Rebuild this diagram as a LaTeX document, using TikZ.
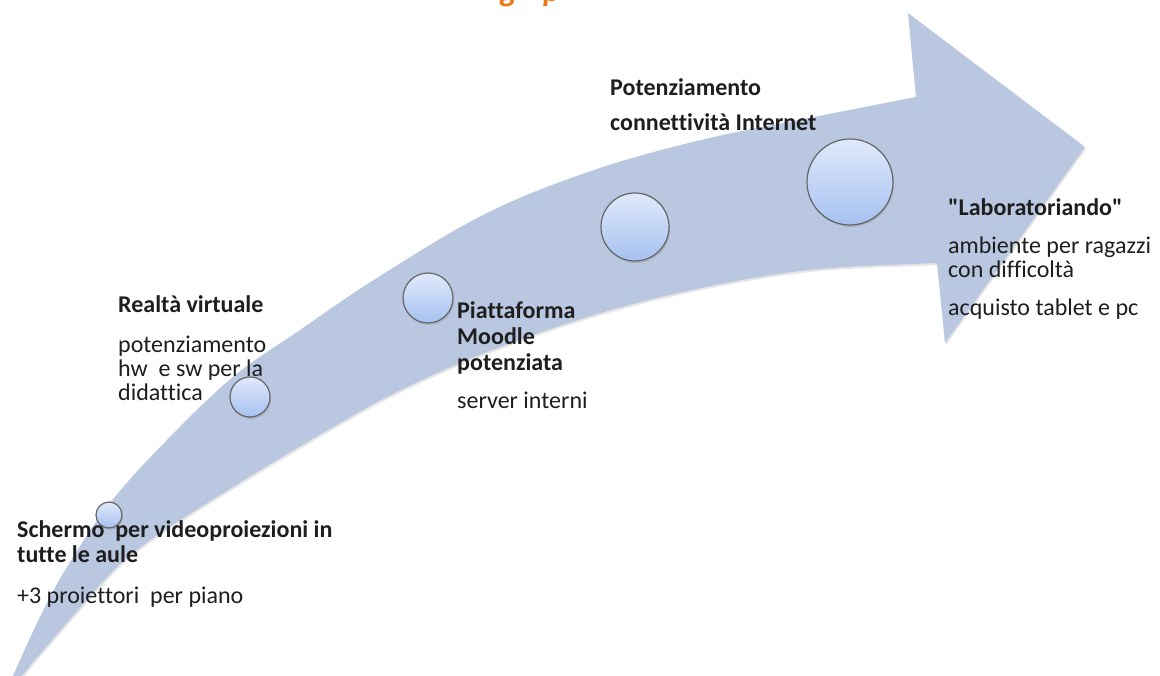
\documentclass[tikz,border=0pt]{standalone}
\usepackage{fontspec}
\setmainfont{Carlito}[Ligatures={TeXOff,NoCommon}]
\usetikzlibrary{shadows}
\definecolor{bandblue}{RGB}{185,199,225}
\definecolor{titleorange}{RGB}{232,120,24}
\definecolor{circtop}{RGB}{224,233,251}
\definecolor{circbot}{RGB}{166,194,241}
\definecolor{txt}{RGB}{30,30,30}
\begin{document}
\begin{tikzpicture}[x=1pt,y=-1pt,
  hd/.style={anchor=base west, inner sep=0pt, text=txt, font=\fontsize{24}{26}\selectfont\bfseries},
  bd/.style={anchor=base west, inner sep=0pt, text=txt, font=\fontsize{24}{26}\selectfont},
  ttl/.style={anchor=base west, inner sep=0pt, text=titleorange, font=\fontsize{32}{32}\selectfont\bfseries\itshape},
  dot/.style={circle, draw=black!60, line width=1.2pt, top color=circtop, bottom color=circbot, inner sep=0pt,
    drop shadow={opacity=0.3, shadow xshift=1pt, shadow yshift=-2pt}},
  band/.style={fill=bandblue, drop shadow={opacity=0.2, shadow xshift=1pt, shadow yshift=-2pt}},
]
\useasboundingbox (0,0) rectangle (1160,676);
\fill[white] (0,0) rectangle (1160,676);

% curved arrow
\path[band] plot[smooth, tension=0.6] coordinates {(12,678) (40,617) (67,567) (110,503) (167,440) (233,377) (300,330) (380,276) (487,213) (594,170) (701,140) (809,118) (916,97)}
  -- (908,13) -- (1085,147) -- (945,343) -- (937,263)
  -- plot[smooth, tension=0.6] coordinates {(916,264) (809,270) (701,288) (594,315) (487,352) (401,390) (333,427) (233,487) (133,553) (72,617) (20,678)}
  -- cycle;

% milestones
\node[dot, minimum size=26pt] (c1) at (109,515) {};
\node[dot, minimum size=40pt] (c2) at (250,397) {};
\node[dot, minimum size=50pt] (c3) at (428,298) {};
\node[dot, minimum size=68pt] (c4) at (635,227) {};
\node[dot, minimum size=86pt] (c5) at (850,182) {};

% title fragments (cut off at the top, as in the reference)
\begin{scope}
\clip (0,0) rectangle (1160,676);
\node[ttl] (g1) at (500,2) {g};
\node[ttl] (p1) at (543,2) {p};
\end{scope}

% labels
\node[hd] (t1a) at (17,537) {Schermo\ \ per videoproiezioni in};
\node[hd] (t1b) at (17,562) {tutte le aule};
\node[bd] (t1c) at (17,603) {+3 proiettori\ \ per piano};

\node[hd] (t2a) at (118,313) {Realtà virtuale};
\node[bd] (t2b) at (118,353) {potenziamento};
\node[bd] (t2c) at (118,377) {hw\ \ e sw per la};
\node[bd] (t2d) at (118,401) {didattica};

\node[hd] (t3a) at (457,319) {Piattaforma};
\node[hd] (t3b) at (457,345) {Moodle};
\node[hd] (t3c) at (457,371) {potenziata};
\node[bd] (t3d) at (457,409) {server interni};

\node[hd] (t4a) at (610,96) {Potenziamento};
\node[hd] (t4b) at (610,131) {connettività Internet};

\node[hd] (t5a) at (948,216) {"Laboratoriando"};
\node[bd] (t5b) at (948,254) {ambiente per ragazzi};
\node[bd] (t5c) at (948,278) {con difficoltà};
\node[bd] (t5d) at (948,316) {acquisto tablet e pc};
\end{tikzpicture}
\end{document}
